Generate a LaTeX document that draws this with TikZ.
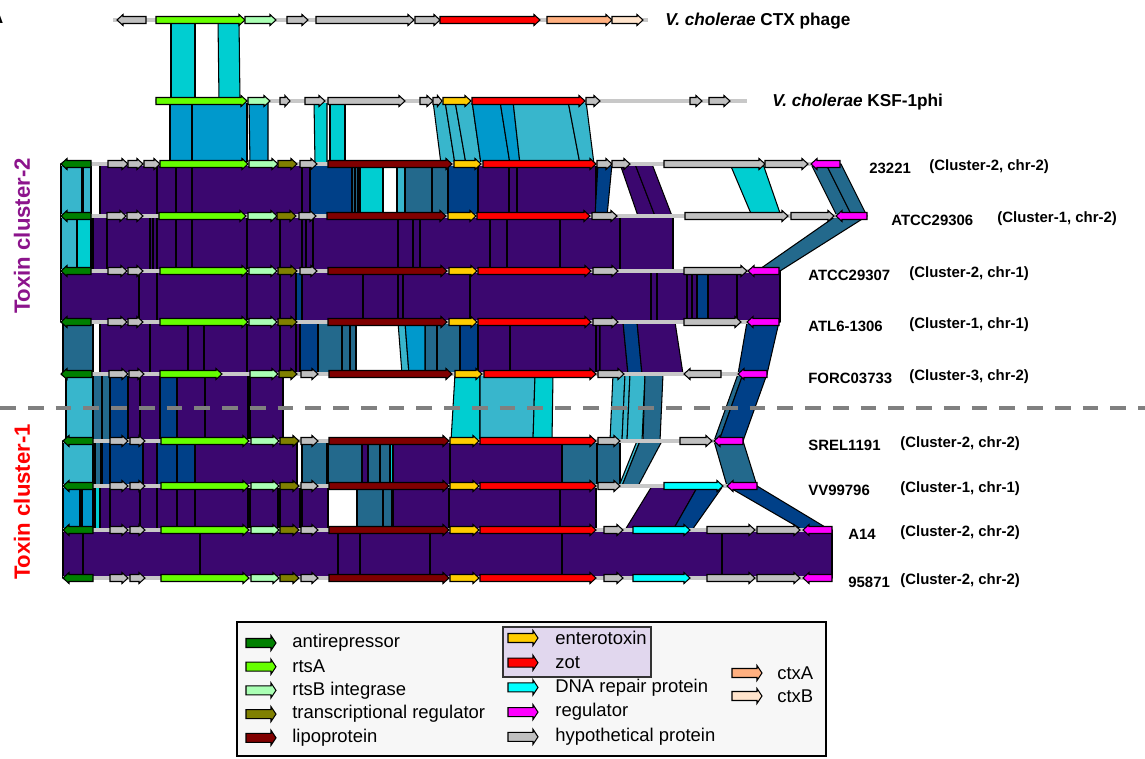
\documentclass[tikz,border=0pt]{standalone}
\usepackage{fontspec}
\setmainfont{Liberation Sans}
\usepackage{xcolor}
\usepackage{tikz}
\usetikzlibrary{calc}

% identity colours of the comparison ribbons
\definecolor{ribP}{RGB}{59,7,111}
\definecolor{ribD}{RGB}{0,64,136}
\definecolor{ribS}{RGB}{35,105,140}
\definecolor{ribM}{RGB}{0,153,204}
\definecolor{ribL}{RGB}{56,182,204}
\definecolor{ribC}{RGB}{0,206,209}
% gene colours
\definecolor{antiC}{RGB}{0,128,0}
\definecolor{rtsaC}{RGB}{102,255,0}
\definecolor{rtsbC}{RGB}{170,255,180}
\definecolor{tregC}{RGB}{128,128,0}
\definecolor{lipoC}{RGB}{128,0,0}
\definecolor{entC}{RGB}{255,204,0}
\definecolor{zotC}{RGB}{255,0,0}
\definecolor{dnaC}{RGB}{0,255,255}
\definecolor{regC}{RGB}{255,0,255}
\definecolor{hypC}{RGB}{192,192,192}
\definecolor{ctxaC}{RGB}{255,176,128}
\definecolor{ctxbC}{RGB}{255,228,204}
\definecolor{lineC}{RGB}{200,200,200}
\definecolor{clusTwo}{RGB}{140,20,140}
\definecolor{toxBox}{RGB}{225,215,238}

% gene arrow: tail x, tip x, row y, colour
\newcommand{\gn}[4]{%
  \pgfmathsetmacro{\neckx}{#2-ifthenelse(#2>#1,1,-1)*min(6,abs(#2-#1)/2)}%
  \filldraw[genebox,fill=#4] (#1,#3-3.5) -- (\neckx,#3-3.5) -- (\neckx,#3-5.5)
    -- (#2,#3) -- (\neckx,#3+5.5) -- (\neckx,#3+3.5) -- (#1,#3+3.5) -- cycle;}
% legend arrow, a little fatter
\newcommand{\keygn}[4]{%
  \filldraw[genebox,fill=#4] (#1,#3-4.5) -- (#2-5,#3-4.5) -- (#2-5,#3-7.5)
    -- (#2,#3) -- (#2-5,#3+7.5) -- (#2-5,#3+4.5) -- (#1,#3+4.5) -- cycle;}
% ribbon: top left, top right, top y, bottom left, bottom right, bottom y, colour
\newcommand{\rb}[7]{%
  \filldraw[rib,fill=#7] (#1,#3) -- (#2,#3) -- (#5,#6) -- (#4,#6) -- cycle;}

\def\lowleft{93/63/antiC, 110/128/hypC, 130/145/hypC, 161/249/rtsaC, 251/279/rtsbC,
  280/299/tregC, 301/318/hypC, 329/449/lipoC, 450/479/entC, 480/596/zotC}

\begin{document}
\begin{tikzpicture}[x=0.02cm, y=-0.02cm,
  genebox/.style={draw=black, line width=0.6pt},
  rib/.style={draw=black, line width=0.6pt, line join=round},
  backbone/.style={draw=lineC, line width=2.8pt},
  lab/.style={anchor=west, inner sep=0pt, font=\bfseries\fontsize{8.5}{10}\selectfont},
  ttl/.style={anchor=west, inner sep=0pt, font=\bfseries\fontsize{9.8}{12}\selectfont},
  keytxt/.style={anchor=west, inner sep=0pt, font=\fontsize{10.5}{12}\selectfont},
  sepline/.style={draw=gray, line width=2.4pt, dash pattern=on 9pt off 6.8pt}]
  \useasboundingbox (0,0) rectangle (1145,758);

  % ---- ribbons between neighbouring genomes ----
  \foreach \a/\b/\c/\d/\k in {171/195/171/195/ribC, 218/239/219/240/ribC}
    \rb{\a}{\b}{20}{\c}{\d}{101}{\k};
  \foreach \a/\b/\c/\d/\k in {170/192/170/192/ribM, 192/247/192/247/ribM,
      249/268/250/268/ribM, 314/327/315/327/ribC, 330/345/330/345/ribC,
      433/445/441/455/ribL, 445/455/455/466/ribL, 455/472/466/481/ribL,
      472/500/481/510/ribM, 500/513/510/520/ribM, 513/568/520/580/ribL,
      568/586/580/594/ribL}
    \rb{\a}{\b}{101}{\c}{\d}{164}{\k};
  % 23221 -> ATCC29306
  \foreach \a/\b/\k in {61/82/ribL, 83/91/ribL, 100/157/ribP, 157/176/ribP,
      176/192/ribP, 192/302/ribP, 302/310/ribP, 310/352/ribD, 352/355/ribS,
      355/358/ribS, 360/383/ribC, 397/405/ribL, 405/432/ribS, 432/448/ribS,
      448/478/ribD, 478/509/ribP, 509/517/ribP, 517/596/ribP}
    \rb{\a}{\b}{164}{\a}{\b}{216}{\k};
  \foreach \a/\b/\c/\d/\k in {598/612/595/607/ribD, 620/635/638/655/ribP,
      635/652/655/672/ribP, 730/763/752/781/ribC, 811/826/837/852/ribS,
      826/841/852/867/ribS}
    \rb{\a}{\b}{164}{\c}{\d}{216}{\k};
  % ATCC29306 -> ATCC29307
  \foreach \a/\b/\k in {61/77/ribL, 77/91/ribC, 93/107/ribP, 107/150/ribP,
      150/153/ribP, 153/157/ribP, 157/176/ribP, 176/192/ribP, 192/247/ribP,
      247/280/ribP, 280/302/ribP, 302/306/ribP, 306/313/ribP, 313/398/ribP,
      398/413/ribP, 413/420/ribP, 420/490/ribP, 490/507/ribP, 507/560/ribP,
      560/620/ribP, 620/673/ribP}
    \rb{\a}{\b}{216}{\a}{\b}{271}{\k};
  \rb{836}{867}{216}{757}{780}{271}{ribS};
  % ATCC29307 -> ATL6-1306
  \foreach \a/\b/\k in {61/139/ribP, 139/157/ribP, 157/247/ribP, 247/280/ribP,
      280/296/ribP, 296/302/ribD, 302/363/ribP, 363/398/ribP, 398/403/ribP,
      403/470/ribP, 470/651/ribP, 651/657/ribP, 657/687/ribP, 687/692/ribP,
      692/697/ribP, 697/708/ribD, 708/737/ribP, 737/780/ribP}
    \rb{\a}{\b}{271}{\a}{\b}{322}{\k};
  % ATL6-1306 -> FORC03733
  \foreach \a/\b/\k in {63/93/ribS, 100/150/ribP, 150/188/ribP, 188/204/ribP,
      204/247/ribP, 247/280/ribP, 280/296/ribP, 296/300/ribP, 300/318/ribD,
      318/342/ribS, 342/350/ribS, 350/356/ribS, 425/437/ribS, 437/460/ribS,
      460/478/ribD, 478/510/ribP, 510/596/ribP, 596/600/ribP}
    \rb{\a}{\b}{322}{\a}{\b}{374}{\k};
  \foreach \a/\b/\c/\d/\k in {398/405/402/409/ribL, 405/425/409/425/ribM,
      600/623/600/628/ribP, 623/637/628/642/ribD, 637/675/642/683/ribP,
      747/779/738/767/ribD}
    \rb{\a}{\b}{322}{\c}{\d}{374}{\k};
  % FORC03733 -> SREL1191
  \foreach \a/\b/\k in {66/93/ribL, 93/102/ribS, 102/110/ribS, 110/128/ribD,
      128/140/ribP, 140/160/ribP, 160/177/ribD, 177/205/ribP, 205/248/ribP,
      250/283/ribP}
    \rb{\a}{\b}{374}{\a}{\b}{441}{\k};
  \foreach \a/\b/\c/\d/\k in {455/480/451/480/ribC, 480/535/480/533/ribL,
      535/553/533/552/ribC, 613/625/610/622/ribL, 625/630/622/627/ribL,
      630/645/627/642/ribL, 645/663/643/660/ribS, 738/743/714/719/ribS,
      743/767/719/743/ribD}
    \rb{\a}{\b}{374}{\c}{\d}{441}{\k};
  % SREL1191 -> VV99796
  \foreach \a/\b/\k in {63/93/ribL, 95/101/ribS, 102/110/ribD, 110/143/ribD,
      143/157/ribP, 157/177/ribD, 177/195/ribD, 195/297/ribP, 302/327/ribS,
      328/362/ribS, 362/368/ribP, 368/380/ribS, 380/390/ribS, 390/393/ribC,
      393/450/ribP, 450/562/ribP, 562/597/ribS, 597/620/ribS}
    \rb{\a}{\b}{441}{\a}{\b}{486}{\k};
  \foreach \a/\b/\c/\d/\k in {637/640/619/622/ribL, 640/662/622/638/ribS,
      714/743/727/757/ribS}
    \rb{\a}{\b}{441}{\c}{\d}{486}{\k};
  % VV99796 -> A14
  \foreach \a/\b/\k in {63/80/ribM, 82/93/ribM, 95/100/ribC, 100/110/ribP,
      110/140/ribP, 140/157/ribP, 157/177/ribP, 177/195/ribP, 195/248/ribP,
      250/278/ribP, 280/300/ribP, 302/328/ribP, 357/383/ribS, 383/392/ribS,
      393/449/ribP, 449/560/ribP, 560/596/ribP}
    \rb{\a}{\b}{486}{\a}{\b}{530}{\k};
  \foreach \a/\b/\c/\d/\k in {652/698/625/673/ribP, 698/723/673/692/ribD,
      727/757/803/830/ribD}
    \rb{\a}{\b}{486}{\c}{\d}{530}{\k};
  % A14 -> 95871
  \foreach \a/\b in {63/83, 83/200, 200/338, 338/360, 360/430, 430/562,
      562/722, 722/832}
    \rb{\a}{\b}{530}{\a}{\b}{578}{ribP};

  % ---- genome lines and genes ----
  \draw[backbone] (113,20) -- (648,20);
  \foreach \a/\b/\k in {146/117/hypC, 156/245/rtsaC, 245/276/rtsbC, 287/308/hypC,
      316/414/hypC, 415/440/hypC, 440/540/zotC, 547/612/ctxaC, 612/643/ctxbC}
    \gn{\a}{\b}{20}{\k};
  \draw[backbone] (155,101) -- (747,101);
  \foreach \a/\b/\k in {156/247/rtsaC, 248/270/rtsbC, 280/290/hypC, 305/325/hypC,
      328/405/hypC, 420/433/hypC, 433/442/hypC, 443/471/entC, 472/585/zotC,
      586/600/hypC, 690/702/hypC, 709/730/hypC}
    \gn{\a}{\b}{101}{\k};
  \draw[backbone] (61,164) -- (840,164);
  \foreach \a/\b/\k in {91/61/antiC, 108/128/hypC, 128/143/hypC, 144/160/hypC,
      160/248/rtsaC, 249/278/rtsbC, 278/297/tregC, 300/317/hypC, 328/452/lipoC,
      454/481/entC, 483/596/zotC, 597/612/hypC, 612/630/hypC, 664/765/hypC,
      765/808/hypC, 840/811/regC}
    \gn{\a}{\b}{164}{\k};
  \draw[backbone] (61,216) -- (867,216);
  \foreach \a/\b/\k in {91/61/antiC, 107/126/hypC, 127/143/hypC, 159/246/rtsaC,
      248/277/rtsbC, 277/296/tregC, 299/316/hypC, 327/446/lipoC, 448/476/entC,
      477/590/zotC, 592/617/hypC, 685/788/hypC, 791/834/hypC, 867/836/regC}
    \gn{\a}{\b}{216}{\k};
  \draw[backbone] (61,271) -- (779,271);
  \foreach \a/\b/\k in {91/61/antiC, 108/127/hypC, 128/143/hypC, 160/248/rtsaC,
      249/277/rtsbC, 278/297/tregC, 300/317/hypC, 328/447/lipoC, 449/477/entC,
      478/591/zotC, 593/618/hypC, 684/747/hypC, 779/748/regC}
    \gn{\a}{\b}{271}{\k};
  \draw[backbone] (61,322) -- (779,322);
  \foreach \a/\b/\k in {91/61/antiC, 108/127/hypC, 128/143/hypC, 160/248/rtsaC,
      249/277/rtsbC, 278/297/tregC, 328/447/lipoC, 449/477/entC, 478/591/zotC,
      593/618/hypC, 684/741/hypC, 779/747/regC}
    \gn{\a}{\b}{322}{\k};
  \draw[backbone] (61,374) -- (767,374);
  \foreach \a/\b/\k in {92/61/antiC, 109/128/hypC, 129/144/hypC, 160/222/rtsaC,
      250/278/rtsbC, 279/297/tregC, 301/318/hypC, 329/452/lipoC, 455/482/entC,
      484/596/zotC, 598/624/hypC, 721/684/hypC, 767/738/regC}
    \gn{\a}{\b}{374}{\k};
  \draw[backbone] (63,441) -- (743,441);
  \foreach \a/\b/\k in \lowleft \gn{\a}{\b}{441}{\k};
  \foreach \a/\b/\k in {598/620/hypC, 680/712/hypC, 743/714/regC}
    \gn{\a}{\b}{441}{\k};
  \draw[backbone] (63,486) -- (757,486);
  \foreach \a/\b/\k in \lowleft \gn{\a}{\b}{486}{\k};
  \foreach \a/\b/\k in {598/620/hypC, 664/723/dnaC, 757/727/regC}
    \gn{\a}{\b}{486}{\k};
  \foreach \y in {530,578} {
    \draw[backbone] (63,\y) -- (832,\y);
    \foreach \a/\b/\k in \lowleft \gn{\a}{\b}{\y}{\k};
    \foreach \a/\b/\k in {604/623/hypC, 633/690/dnaC, 707/755/hypC,
        757/800/hypC, 832/803/regC}
      \gn{\a}{\b}{\y}{\k};
  }

  % ---- names ----
  \node[ttl] (ctxphage) at (665,21) {\textit{V. cholerae} CTX phage};
  \node[ttl] (ksfphi) at (772,102) {\textit{V. cholerae} KSF-1phi};
  \foreach \y/\nx/\n/\cx/\c [count=\i] in {164/869/23221/929/{(Cluster-2, chr-2)},
      216/891/ATCC29306/997/{(Cluster-1, chr-2)},
      271/808/ATCC29307/909/{(Cluster-2, chr-1)},
      322/808/ATL6-1306/909/{(Cluster-1, chr-1)},
      374/808/FORC03733/909/{(Cluster-3, chr-2)},
      441/808/SREL1191/900/{(Cluster-2, chr-2)},
      486/808/VV99796/900/{(Cluster-1, chr-1)},
      530/848/A14/900/{(Cluster-2, chr-2)},
      578/848/95871/900/{(Cluster-2, chr-2)}} {
    \node[lab] (strain\i) at (\nx,\y+4) {\n};
    \node[lab] (clus\i) at (\cx,\y+3) {\c};
  }
  \node[rotate=90, font=\bfseries\fontsize{12.6}{15}\selectfont, text=clusTwo]
    (toxtwo) at (22,236) {Toxin cluster-2};
  \node[rotate=90, font=\bfseries\fontsize{12.6}{15}\selectfont, text=red]
    (toxone) at (22,502) {Toxin cluster-1};
  \node[font=\bfseries\fontsize{10}{12}\selectfont] (panelA) at (-3,17) {A};
  \draw[sepline] (0,408) -- (1145,408);

  % ---- legend ----
  \filldraw[draw=black, fill=gray!6, line width=0.6pt] (237,622) rectangle (826,756);
  \filldraw[draw=black!80, fill=toxBox, line width=0.6pt] (503,627) rectangle (651,677);
  \foreach \k/\t [count=\i from 0] in {antiC/antirepressor, rtsaC/rtsA,
      rtsbC/rtsB integrase, tregC/transcriptional regulator, lipoC/lipoprotein} {
    \pgfmathsetmacro{\yy}{643+23.7*\i}
    \keygn{246}{276}{\yy}{\k};
    \node[keytxt] (keyL\i) at (292,\yy) {\t};
  }
  \foreach \k/\t [count=\i from 0] in {entC/enterotoxin, zotC/zot,
      dnaC/DNA repair protein, regC/regulator, hypC/hypothetical protein} {
    \pgfmathsetmacro{\yy}{638+24.7*\i}
    \keygn{508}{538}{\yy}{\k};
    \node[keytxt] (keyM\i) at (555,\yy) {\t};
  }
  \foreach \k/\t/\yy [count=\i from 0] in {ctxaC/ctxA/673, ctxbC/ctxB/696} {
    \keygn{732}{762}{\yy}{\k};
    \node[keytxt] (keyR\i) at (777,\yy) {\t};
  }
\end{tikzpicture}
\end{document}
